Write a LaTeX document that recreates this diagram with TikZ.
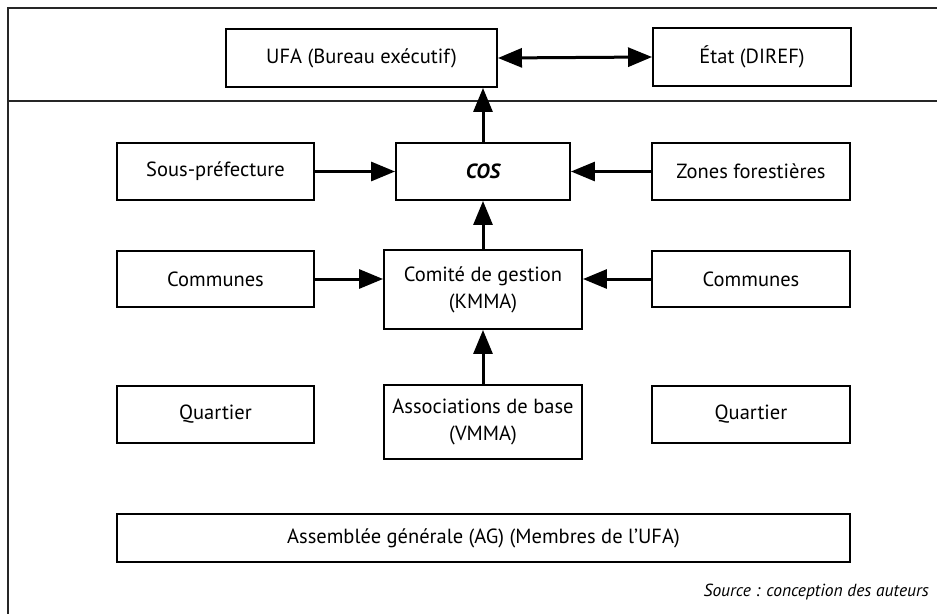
\documentclass[tikz,border=0pt]{standalone}
\usepackage{fontspec}
\setmainfont{PT Sans}
\usepackage{tikz}
\usetikzlibrary{calc, positioning, arrows.meta}

\begin{document}
\begin{tikzpicture}[x=1pt, y=-1pt,
	boite/.style={draw, line width=1.9pt, inner sep=0pt, align=center, font=\fontsize{20.5}{27}\selectfont},
	fleche/.style={line width=3pt, -{Triangle[length=24pt, width=19pt]}}]
\useasboundingbox (0,0) rectangle (937,614);
	% Cadre
\draw [line width=1.6pt, black!85] (937,8) -- (8,8) -- (8,614);
\draw [line width=1.6pt, black!85] (8,101) -- (937,101);

	% Niveau du haut
\node [boite, minimum width=271, minimum height=58] (ufa) at (361.5,58) {UFA (Bureau exécutif)};
\node [boite, minimum width=198, minimum height=58] (etat) at (752,57) {État (DIREF)};
\draw [fleche, {Triangle[length=24pt, width=19pt]}-{Triangle[length=24pt, width=19pt]}] (ufa.east) -- (etat.west);

	% Niveau COS
\node [boite, minimum width=197, minimum height=57] (sous) at (215.5,171.5) {Sous-préfecture};
\node [boite, minimum width=174, minimum height=57, font=\fontsize{20.5}{27}\selectfont\bfseries\itshape] (cos) at (483,171.5) {COS};
\node [boite, minimum width=198, minimum height=57] (zones) at (751,171.5) {Zones forestières};
\draw [fleche] (sous) -- (cos);
\draw [fleche] (zones) -- (cos);
\draw [fleche] (cos.north) -- (cos.north |- ufa.south);

	% Niveau KMMA
\node [boite, minimum width=197, minimum height=56] (com1) at (215.5,279) {Communes};
\node [boite, minimum width=198, minimum height=79] (comite) at (483,289.5) {Comité de gestion\\(KMMA)};
\node [boite, minimum width=198, minimum height=56] (com2) at (751,279) {Communes};
\draw [fleche] (com1.east) -- (com1.east -| comite.west);
\draw [fleche] (com2.west) -- (com2.west -| comite.east);
\draw [fleche] (comite) -- (cos);

	% Niveau VMMA
\node [boite, minimum width=197, minimum height=57] (quart1) at (215.5,414.5) {Quartier};
\node [boite, minimum width=198, minimum height=74] (assoc) at (483,422) {Associations de base\\(VMMA)};
\node [boite, minimum width=198, minimum height=57] (quart2) at (751,414.5) {Quartier};
\draw [fleche] (assoc) -- (comite);

	% AG et source
\node [boite, minimum width=733, minimum height=48] (ag) at (483.5,538) {Assemblée générale (AG) (Membres de l’UFA)};
\node [font=\fontsize{17.5}{20}\selectfont\itshape, anchor=east, inner sep=0pt] (source) at (929,592) {Source : conception des auteurs};
\end{tikzpicture}
\end{document}
